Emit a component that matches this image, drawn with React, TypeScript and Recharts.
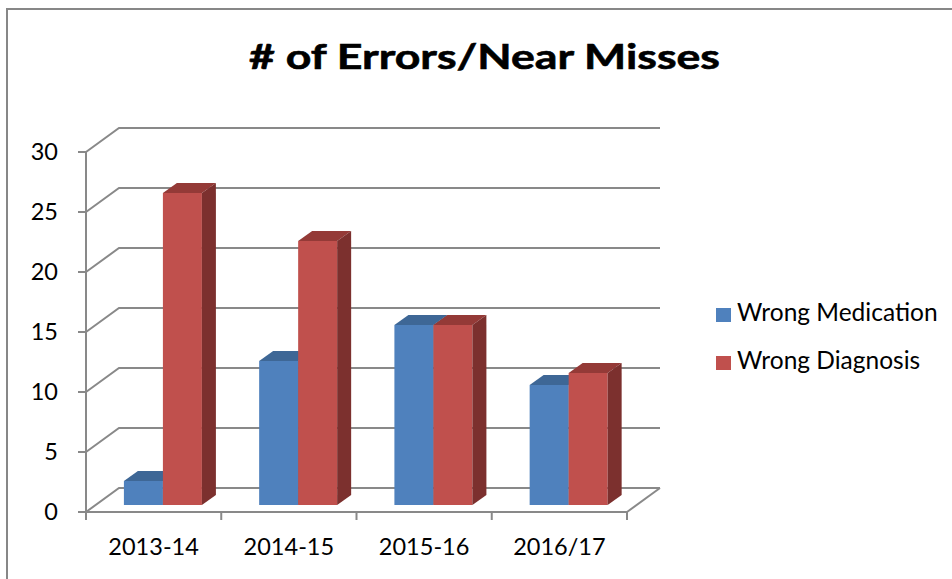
import React from 'react';
import { BarChart, Bar, XAxis, YAxis, CartesianGrid, Legend } from 'recharts';

const categories = ['2013-14', '2014-15', '2015-16', '2016/17'];
const wrongMedication = [2, 12, 15, 10];
const wrongDiagnosis = [26, 22, 15, 11];
const yTicks = [0, 5, 10, 15, 20, 25, 30];
const seriesNames = ['Wrong Medication', 'Wrong Diagnosis'];
const titleText = '# of Errors/Near Misses';

const data = categories.map((c, i) => ({
  category: c,
  med: wrongMedication[i],
  diag: wrongDiagnosis[i],
}));

const FONT = 'Lato, "Open Sans", sans-serif';
const GRID = '#898989';
// floor / back-wall depth
const DX = 33;
const DY = -24;
// bar front-face offset and bar depth
const BOX = 9.5;
const BOY = -7;
const BDX = 14;
const BDY = -10;

const colors = {
  med: { front: '#4F81BD', top: '#3E6796', side: '#375D8A' },
  diag: { front: '#C0504D', top: '#943A37', side: '#7C302E' },
};

const makeShape = (c: { front: string; top: string; side: string }) => (props: any) => {
  const { x, y, width, height } = props;
  if (x == null || y == null) return <g />;
  const fx = x + BOX;
  const fy = y + BOY;
  const w = width;
  const h = height;
  return (
    <g>
      <rect x={fx} y={fy} width={w} height={h} fill={c.front} />
      <polygon
        points={`${fx},${fy} ${fx + BDX},${fy + BDY} ${fx + w + BDX},${fy + BDY} ${fx + w},${fy}`}
        fill={c.top}
      />
      <polygon
        points={`${fx + w},${fy} ${fx + w + BDX},${fy + BDY} ${fx + w + BDX},${fy + h + BDY} ${fx + w},${fy + h}`}
        fill={c.side}
      />
    </g>
  );
};

const GridLine = (props: any) => {
  const { x1, y1, x2, y, height, index } = props;
  const bottom = (y ?? 0) + (height ?? 0);
  const isBottom = Math.abs(y1 - bottom) < 1.5;
  return (
    <g key={`gl-${index}-${y1}`}>
      <path
        d={`M${x1},${y1} L${x1 + DX},${y1 + DY} L${x2 + DX},${y1 + DY}`}
        stroke={GRID}
        strokeWidth={2}
        fill="none"
      />
      {isBottom && (
        <path d={`M${x2},${y1} L${x2 + DX},${y1 + DY}`} stroke={GRID} strokeWidth={2} fill="none" />
      )}
    </g>
  );
};

const XTick = (props: any) => {
  const { x, y, payload, width, visibleTicksCount, index } = props;
  const count = visibleTicksCount || categories.length;
  const band = width ? width / count : payload?.offset ? payload.offset * 2 : 135;
  const left = x - band / 2;
  const right = x + band / 2;
  return (
    <g>
      <line x1={left} y1={y} x2={left} y2={y + 8} stroke={GRID} strokeWidth={2} />
      {index === count - 1 && <line x1={right} y1={y} x2={right} y2={y + 8} stroke={GRID} strokeWidth={2} />}
      <text x={x} y={y + 43} textAnchor="middle" fontSize={23.5} fontFamily={FONT} fill="#000">
        {payload.value}
      </text>
    </g>
  );
};

const LegendContent = () => {
  const items = [
    { name: seriesNames[0], color: colors.med.front },
    { name: seriesNames[1], color: colors.diag.front },
  ];
  return (
    <svg width={240} height={90} style={{ display: 'block' }}>
      {items.map((it, i) => (
        <g key={it.name}>
          <rect x={6} y={18 + i * 48} width={15} height={14} fill={it.color} />
          <text x={27} y={31 + i * 48} fontSize={24.5} fontFamily={FONT} fill="#000">
            {it.name}
          </text>
        </g>
      ))}
    </svg>
  );
};

export default function App() {
  return (
    <div style={{ position: 'absolute', left: 0, top: 0, width: 952, height: 579, background: '#fff', overflow: 'hidden' }}>
      <BarChart
        width={952}
        height={579}
        data={data}
        margin={{ top: 152, right: 325, bottom: 37, left: 0 }}
        barCategoryGap="21%"
        barGap={0}
      >
        <CartesianGrid horizontal={GridLine} vertical={false} />
        <XAxis
          dataKey="category"
          height={30}
          axisLine={{ stroke: GRID, strokeWidth: 2 }}
          tickLine={false}
          tickSize={0}
          tickMargin={0}
          interval={0}
          tick={<XTick />}
        />
        <YAxis
          width={86}
          domain={[0, 30]}
          ticks={yTicks}
          interval={0}
          axisLine={{ stroke: GRID, strokeWidth: 2 }}
          tickLine={{ stroke: GRID, strokeWidth: 2 }}
          tickSize={8}
          tickMargin={20}
          tick={{ fontSize: 23.5, fontFamily: FONT, fill: '#000' }}
        />
        <Legend
          layout="vertical"
          align="center"
          verticalAlign="middle"
          content={<LegendContent />}
          wrapperStyle={{ left: 710, top: 290, width: 240, height: 90 }}
        />
        <Bar dataKey="med" name={seriesNames[0]} fill={colors.med.front} shape={makeShape(colors.med)} isAnimationActive={false} />
        <Bar dataKey="diag" name={seriesNames[1]} fill={colors.diag.front} shape={makeShape(colors.diag)} isAnimationActive={false} />
      </BarChart>
      <svg
        width={952}
        height={579}
        style={{ position: 'absolute', left: 0, top: 0, pointerEvents: 'none' }}
      >
        <line x1={7} y1={9} x2={952} y2={9} stroke="#878787" strokeWidth={2} />
        <line x1={7} y1={8} x2={7} y2={579} stroke="#878787" strokeWidth={2} />
        <text
          x={484.5}
          y={69}
          textAnchor="middle"
          fontSize={35}
          fontWeight="bold"
          fontFamily={FONT}
          fill="#000"
          stroke="#000"
          strokeWidth={0.6}
          textLength={471}
          lengthAdjust="spacingAndGlyphs"
        >
          {titleText}
        </text>
      </svg>
    </div>
  );
}
